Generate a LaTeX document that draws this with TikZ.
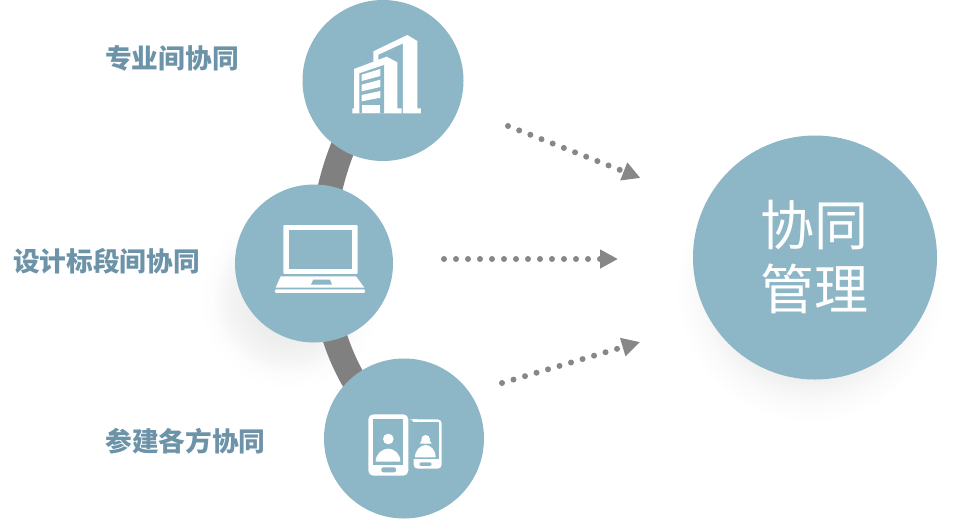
\documentclass[tikz,border=0pt]{standalone}
\usepackage{fontspec}
\usetikzlibrary{arrows.meta,backgrounds}
\newfontfamily\cjk{Noto Sans CJK SC}
\definecolor{disc}{HTML}{8DB6C7}
\definecolor{labeltext}{HTML}{6C93A8}
\definecolor{ringgray}{HTML}{808080}
\definecolor{dotgray}{HTML}{878787}
\pgfdeclareradialshading{softglow}{\pgfpoint{0bp}{0bp}}{color(0bp)=(black!13); color(11bp)=(black!11); color(17bp)=(black!6); color(21bp)=(black!2); color(25bp)=(white); color(50bp)=(white)}
\pgfdeclareradialshading{faintglow}{\pgfpoint{0bp}{0bp}}{color(0bp)=(black!8); color(11bp)=(black!7); color(17bp)=(black!4); color(21bp)=(black!1); color(25bp)=(white); color(50bp)=(white)}
\tikzset{
	disc/.style={circle,fill=disc,inner sep=0pt,minimum size=#1},
	sidelabel/.style={text=labeltext,inner sep=0pt,font=\cjk\bfseries\fontsize{26.7}{30}\selectfont},
	flow/.style={dotgray,line width=6pt,line cap=round,dash pattern=on 0pt off 12pt,-{Triangle[length=18pt,width=18pt]}},
	ring/.style={ringgray,line width=25pt,line cap=butt}
}
\begin{document}
\begin{tikzpicture}[x=1pt,y=-1pt,line join=round]
	\useasboundingbox (0,0) rectangle (956,520);
	% discs
	\node[disc=161pt] (top) at (383,80.5) {};
	\node[disc=158pt] (mid) at (314,263.5) {};
	\node[disc=160pt] (bottom) at (404,438.5) {};
	\node[disc=244pt] (hub) at (815,257.5) {};
	\node[text=white,align=center,inner sep=0pt,font=\cjk\fontsize{54}{64}\selectfont] (hubtext) at (814,257.5) {协同\\管理};
	% labels
	\node[sidelabel] (toplabel) at (172,58) {专业间协同};
	\node[sidelabel] (midlabel) at (106.5,261) {设计标段间协同};
	\node[sidelabel] (bottomlabel) at (185.5,441) {参建各方协同};
	% shadows and ring
	\begin{scope}[on background layer]
		\shade[shading=faintglow] (290,298) circle (92);
		\shade[shading=softglow] (810,288) circle (135);
		\draw[ring] (top.center) .. controls (305,170) and (292,350) .. (bottom.center);
	\end{scope}
	% arrows
	\coordinate (a1) at (508,126);
	\coordinate (b1) at (640.5,178);
	\coordinate (a2) at (444,259);
	\coordinate (b2) at (618,259);
	\coordinate (a3) at (502,383);
	\coordinate (b3) at (640,342);
	\draw[flow] (a1) -- (b1);
	\draw[flow] (a2) -- (b2);
	\draw[flow] (a3) -- (b3);
	% building
	\begin{scope}[shift={(345,30)},x=0.3333pt,y=-0.3333pt]
		\fill[white] (85,64)--(187,15)--(217,33)--(217,235)--(228,235)--(228,250)--(174,250)--(174,40)--(100,74)--(100,90)--(85,95)--cycle;
		\fill[white] (27,117)--(125,80)--(157,97)--(157,235)--(170,235)--(170,250)--(22,250)--(22,235)--(27,235)--cycle;
		\fill[disc] (43,130)--(117,105)--(117,250)--(43,250)--cycle;
		\fill[white] (50,134)--(106,117)--(106,138)--(50,153)--cycle;
		\fill[white] (50,164)--(106,149)--(106,171)--(50,184)--cycle;
		\fill[white] (50,195)--(106,183)--(106,203)--(50,214)--cycle;
		\fill[white] (50,226)--(106,226)--(106,250)--(50,250)--cycle;
	\end{scope}
	% laptop
	\begin{scope}[shift={(230,180)},x=0.3333pt,y=-0.3333pt]
		\fill[white,rounded corners=1pt] (160,135) rectangle (383,282);
		\fill[disc] (177,151) rectangle (367,267);
		\fill[white] (152,289)--(378,289)--(403,323)--(137,323)--cycle;
		\fill[white,rounded corners=1pt] (135,328) rectangle (405,339);
		\fill[disc] (250,299)--(300,299)--(306,314)--(243,314)--cycle;
	\end{scope}
	% phones
	\begin{scope}[shift={(320,350)},x=0.3333pt,y=-0.3333pt]
		\fill[white,rounded corners=5pt] (145,193) rectangle (265,377);
		\fill[disc] (160,208) rectangle (250,345);
		\fill[disc,rounded corners=2pt] (184,352) rectangle (228,367);
		\fill[white] (205,267) circle (16);
		\fill[white] (167,335) .. controls (167,310) and (188,296) .. (205,296) .. controls (222,296) and (241,310) .. (241,335) -- cycle;
		\fill[white,rounded corners=4pt] (278,208)--(365,208)--(365,356)--(281,356)--(281,208)--cycle;
		\fill[disc] (272,216) rectangle (357,328);
		\fill[white] (278,208) rectangle (290,216);
		\fill[disc,rounded corners=2pt] (298,337) rectangle (335,348);
		\fill[white] (317,268) circle (13);
		\fill[white] (299,281)--(335,281)--(327,268)--(307,268)--cycle;
		\fill[white] (285,322) .. controls (285,300) and (302,285) .. (317,285) .. controls (332,285) and (347,300) .. (347,322) -- cycle;
	\end{scope}
\end{tikzpicture}
\end{document}
